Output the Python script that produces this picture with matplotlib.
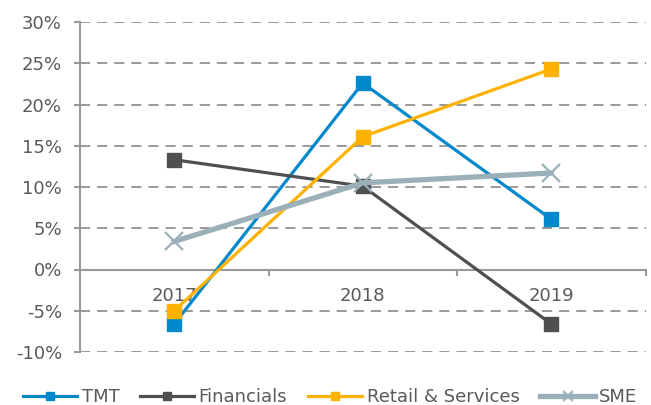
import matplotlib
matplotlib.use("Agg")
import matplotlib.pyplot as plt
from matplotlib.ticker import FixedLocator, FuncFormatter

years = ["2017", "2018", "2019"]
tmt = [-6.6, 22.6, 6.1]
financials = [13.3, 10.1, -6.6]
retail = [-5.0, 16.1, 24.3]
sme = [3.4, 10.5, 11.7]
yticks = [-10, -5, 0, 5, 10, 15, 20, 25, 30]

TXT = "#595959"
GRID = "#9a9a9a"
FS = 13

plt.rcParams['font.family'] = ['DejaVu Sans']
plt.rcParams['axes.unicode_minus'] = False
fig = plt.figure(figsize=(6.51, 4.05), dpi=100)
ax = fig.add_axes([80/651, 1-352/405, 565.5/651, 330/405])

x = list(range(len(years)))
ax.plot(x, tmt, color="#0088CC", lw=2.3, marker="s", ms=10, label="TMT", zorder=3)
ax.plot(x, financials, color="#4F4F51", lw=2.3, marker="s", ms=10, label="Financials", zorder=3)
ax.plot(x, retail, color="#FDB100", lw=2.3, marker="s", ms=10, label="Retail & Services", zorder=3)
ax.plot(x, sme, color="#9BB0B8", lw=3.8, marker="x", ms=13, mew=1.6, label="SME", zorder=4)

ax.set_xlim(-0.5, 2.5)
ax.set_ylim(-10, 30)
ax.yaxis.set_major_locator(FixedLocator(yticks))
ax.yaxis.set_major_formatter(FuncFormatter(lambda v, p: f"{int(round(v))}%"))
ax.grid(axis="y", color=GRID, lw=1.4, ls=(0, (5.2, 3.6)), zorder=1)

for s in ["top", "right"]:
    ax.spines[s].set_visible(False)
ax.spines["left"].set_color(GRID)
ax.spines["left"].set_linewidth(1.5)
ax.spines["bottom"].set_position(("data", 0))
ax.spines["bottom"].set_color(GRID)
ax.spines["bottom"].set_linewidth(1.5)
ax.spines["bottom"].set_zorder(2)

ax.set_xticks(x)
ax.set_xticklabels(years)
ax.set_xticks([0.5, 1.5, 2.5], minor=True)
ax.tick_params(axis="x", which="major", length=0, pad=12.5, labelsize=FS, labelcolor=TXT)
ax.tick_params(axis="x", which="minor", length=4, width=1.5, color=GRID, direction="out")
ax.tick_params(axis="y", length=4, width=1.5, color=GRID, pad=9, labelsize=FS, labelcolor=TXT)

leg = fig.legend(loc="center", bbox_to_anchor=(0.507, 0.02), ncol=4, frameon=False,
                 fontsize=FS, handlelength=3.0, handletextpad=0.25, columnspacing=1.15,
                 markerscale=0.6)
for t in leg.get_texts():
    t.set_color(TXT)

fig.savefig("out.png", dpi=100)
